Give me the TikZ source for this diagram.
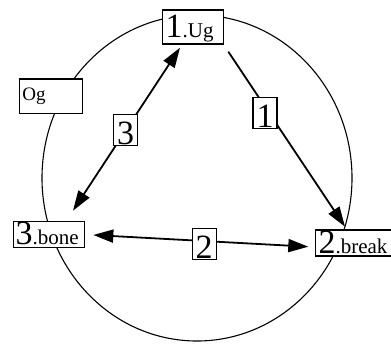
\documentclass[tikz,border=0pt]{standalone}
\usepackage{fontspec}
\setmainfont{Liberation Serif}
\usetikzlibrary{arrows.meta}
\newcommand{\smtxt}[1]{{\fontsize{21}{21}\selectfont #1}}
\begin{document}
\begin{tikzpicture}[x=1pt,y=-1pt,
  box/.style={draw, line width=1.2pt, fill=white, inner ysep=0pt, align=left,
    anchor=north west, font=\fontsize{34}{34}\selectfont},
  lab/.style={draw, line width=1.2pt, fill=white, inner sep=0pt,
    minimum width=24pt, text height=30pt, text depth=1pt,
    font=\fontsize{34}{34}\selectfont},
  conn/.style={line width=1.8pt, -{Triangle[length=20pt,width=13pt]}},
  dconn/.style={line width=1.8pt, {Triangle[length=20pt,width=13pt]}-{Triangle[length=20pt,width=13pt]}},
]
\useasboundingbox (0,0) rectangle (391,343);
\clip (0,0) rectangle (391,343);
% ring
\draw[line width=1.1pt] (197,178) ellipse [x radius=155pt, y radius=163pt];
% boxes
\node[box, inner xsep=3.3pt, text width=54.4pt, text height=28pt, text depth=6pt] (ug) at (161.7,9.3) {1\smtxt{.Ug}};
\node[box, inner xsep=2.7pt, text width=57.6pt, text height=21.7pt, text depth=12.7pt,
  font=\fontsize{19}{19}\selectfont] (og) at (19,78.3) {Og};
\node[box, inner xsep=2.3pt, text width=66.4pt, text height=23.6pt, text depth=2.4pt] (bone) at (12.7,220.7) {3\smtxt{.bone}};
\node[box, inner xsep=3pt, text width=80pt, text height=24pt, text depth=2pt] (brk) at (315,229.3) {2\smtxt{.break}};
% connector end points
\coordinate (a1s) at (228.3,51.7);
\coordinate (a1e) at (345,226.7);
\coordinate (a3s) at (73,210.7);
\coordinate (a3e) at (180,47.7);
\coordinate (a2s) at (93.3,235);
\coordinate (a2e) at (308.3,246.7);
% connectors
\draw[conn] (a1s) -- (a1e);
\draw[dconn] (a3s) -- (a3e);
\draw[dconn] (a2s) -- (a2e);
% labels
\node[lab] (l1) at (265,113.2) {1};
\node[lab] (l3) at (125.5,129.7) {3};
\node[lab] (l2) at (204.2,244.3) {2};
\end{tikzpicture}
\end{document}
